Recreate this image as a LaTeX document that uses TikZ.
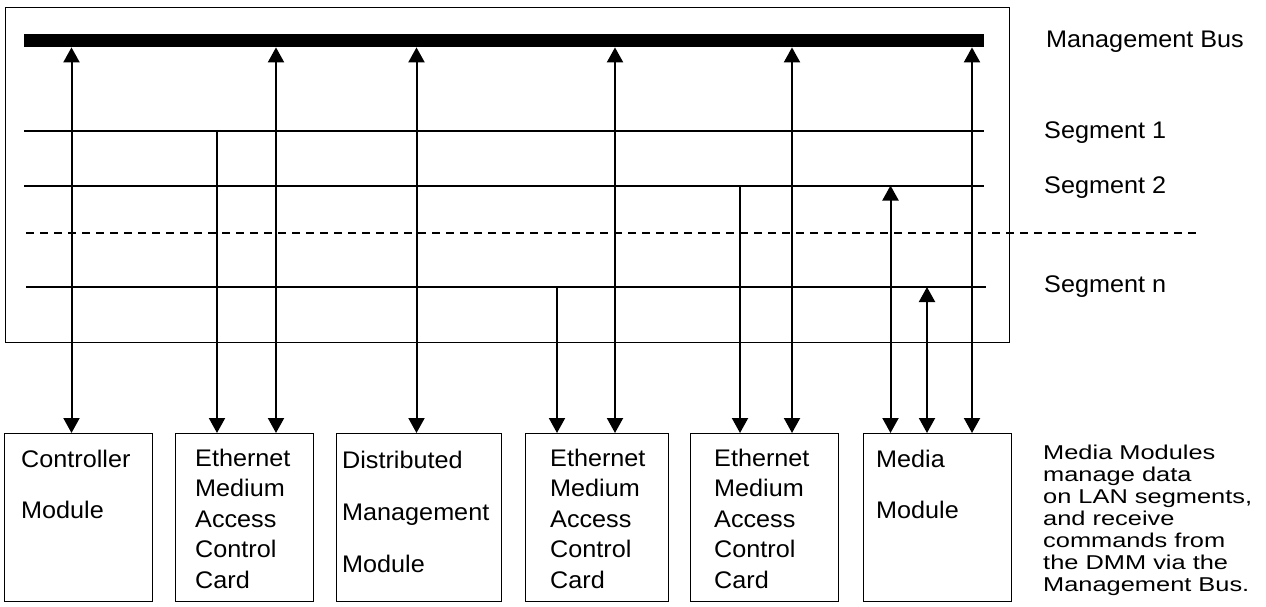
\documentclass[tikz,border=0pt]{standalone}
\usepackage{fontspec}
\usetikzlibrary{arrows.meta}
\newfontfamily\labelfont[FakeStretch=1.05]{Liberation Sans}
\newfontfamily\notefont[FakeStretch=1.27]{Liberation Sans}
% left-aligned lines with a fixed baseline distance; the box baseline is the first line
\newcommand\stacklines[2]{\vtop{\baselineskip=#1\lineskiplimit=-\maxdimen\lineskip=0pt\halign{##\hfil\cr#2\crcr}}}
\begin{document}
\begin{tikzpicture}[x=1pt,y=-1pt,
  >={Triangle[width=16pt,length=15pt]},
  modbox/.style={draw, line width=1.4pt, minimum width=#1, minimum height=168pt,
                 anchor=north west, inner sep=0pt},
  lbl/.style={anchor=base west, inner sep=0pt, font=\labelfont\fontsize{24}{30}\selectfont},
  note/.style={anchor=base west, inner sep=0pt, font=\notefont\fontsize{20}{22}\selectfont},
  seg/.style={line width=2pt},
  link/.style={line width=2pt, <->},
  drop/.style={line width=2pt, ->}]
\useasboundingbox (0,0) rectangle (1266,607);

% backplane frame and management bus
\node[draw, line width=1.4pt, minimum width=1004pt, minimum height=335pt,
      anchor=north west, inner sep=0pt] (frame) at (5,7) {};
\node[fill=black, inner sep=0pt, minimum width=960pt, minimum height=13pt,
      anchor=north west] (bus) at (24,34) {};

% LAN segments
\coordinate (s1w) at (24,131);   \coordinate (s1e) at (984,131);
\coordinate (s2w) at (24,185.5); \coordinate (s2e) at (984,185.5);
\coordinate (dw)  at (26,233);   \coordinate (de)  at (1200,233);
\coordinate (snw) at (26,287);   \coordinate (sne) at (986,287);
\draw[seg] (s1w) -- (s1e);
\draw[seg] (s2w) -- (s2e);
\draw[line width=1.5pt, dash pattern=on 8pt off 6pt] (dw) -- (de);
\draw[seg] (snw) -- (sne);

% labels on the right
\node[lbl] (lbus) at (1046,48) {Management Bus};
\node[lbl] (ls1) at (1044,139) {Segment 1};
\node[lbl] (ls2) at (1044,193) {Segment 2};
\node[lbl] (lsn) at (1044,292) {Segment n};

% modules
\node[modbox=148pt] (b1) at (4,433) {};
\node[modbox=138pt] (b2) at (175,433) {};
\node[modbox=165pt] (b3) at (336,433) {};
\node[modbox=143pt] (b4) at (525,433) {};
\node[modbox=148pt] (b5) at (690,433) {};
\node[modbox=148pt] (b6) at (863,433) {};

\node[lbl] (t1) at (21,467) {\stacklines{51pt}{Controller\cr Module}};
\node[lbl] (t2) at (195,466) {\stacklines{30.5pt}{Ethernet\cr Medium\cr Access\cr Control\cr Card}};
\node[lbl] (t3) at (342,468) {\stacklines{52pt}{Distributed\cr Management\cr Module}};
\node[lbl] (t4) at (550,466) {\stacklines{30.5pt}{Ethernet\cr Medium\cr Access\cr Control\cr Card}};
\node[lbl] (t5) at (714,466) {\stacklines{30.5pt}{Ethernet\cr Medium\cr Access\cr Control\cr Card}};
\node[lbl] (t6) at (876,467) {\stacklines{51pt}{Media\cr Module}};

\node[note] (desc) at (1043,459) {\stacklines{22pt}{Media Modules\cr manage data\cr on LAN segments,\cr and receive\cr commands from\cr the DMM via the\cr Management Bus.}};

% connector positions
\coordinate (xa) at (71.5,0);
\coordinate (xb) at (217,0);
\coordinate (xc) at (276,0);
\coordinate (xd) at (416.5,0);
\coordinate (xe) at (557,0);
\coordinate (xf) at (615,0);
\coordinate (xg) at (740,0);
\coordinate (xh) at (792,0);
\coordinate (xi) at (890.5,0);
\coordinate (xj) at (927,0);
\coordinate (xk) at (972,0);

% connectors
\draw[link] (xa |- bus.south) -- (xa |- b1.north);
\draw[drop] (xb |- s1w) -- (xb |- b2.north);
\draw[link] (xc |- bus.south) -- (xc |- b2.north);
\draw[link] (xd |- bus.south) -- (xd |- b3.north);
\draw[drop] (xe |- snw) -- (xe |- b4.north);
\draw[link] (xf |- bus.south) -- (xf |- b4.north);
\draw[drop] (xg |- s2w) -- (xg |- b5.north);
\draw[link] (xh |- bus.south) -- (xh |- b5.north);
\draw[link] (xi |- s2w) -- (xi |- b6.north);
\draw[link] (xj |- snw) -- (xj |- b6.north);
\draw[link] (xk |- bus.south) -- (xk |- b6.north);
\end{tikzpicture}
\end{document}
